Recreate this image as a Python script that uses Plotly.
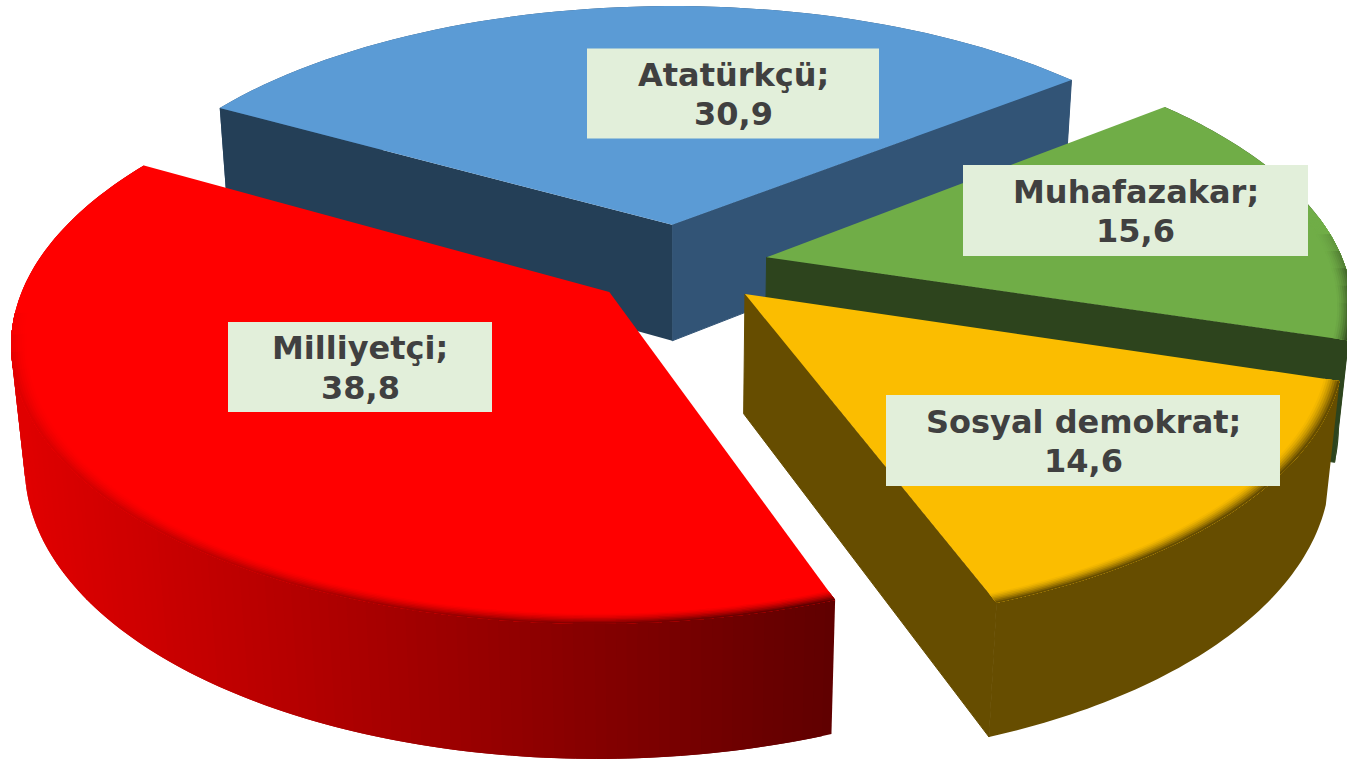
import numpy as np
import plotly.graph_objects as go

# ---- data ----
names = ["Atatürkçü", "Muhafazakar", "Sosyal demokrat", "Milliyetçi"]
values = [30.9, 15.6, 14.6, 38.8]
value_labels = ["30,9", "15,6", "14,6", "38,8"]

# ---- style ----
top_colors = ["#5b9bd5", "#70ad47", "#fbbd00", "#ff0000"]
side_colors = ["#325476", "#2d441d", "#664d00", "#7a0000"]
cut_start_colors = ["#243f57", None, None, None]
cut_end_colors = ["#325476", "#2d441d", "#664d00", None]
edge_thresholds = [(1.0, 0.2), (-0.15, 0.3), (-0.1, 0.2), (0.1, 0.2)]
label_centers = [(733, 93.5), (1135.5, 210.5), (1083, 440.5), (360, 367)]
label_sizes = [(292, 90), (345, 91), (394, 91), (264, 90)]

# ---- camera: perspective view of a tilted, exploded pie ----
CX, CY = 679.0, 265.0
S, A, K, D, M = 578.0, 267.0, 0.165, 120.5, 0.02
EXPLODE = 0.155
START_DEG = -60.2
RED_SIDE = ("#e00000", "#600000")
LINE_GAP = 39.5


def project(u, v, z=0.0):
    w = 1 + K * v + M * z
    return CX + S * u / w, CY + (-A * v + D * z) / w


def hex_rgb(c):
    return np.array([int(c[i:i + 2], 16) for i in (1, 3, 5)], float)


def mix(a, b, t):
    r = hex_rgb(a) * (1 - t) + hex_rgb(b) * t
    return "#%02x%02x%02x" % tuple(int(round(x)) for x in r)


fig = go.Figure()


def poly(xs, ys, color, stroke=False):
    xs, ys = list(xs), list(ys)
    fig.add_trace(go.Scatter(
        x=xs + [xs[0]], y=ys + [ys[0]], mode="lines" if stroke else "none", fill="toself",
        fillcolor=color, line=dict(color=color, width=1), hoverinfo="skip", showlegend=False))


total = sum(values)
bounds = START_DEG + np.concatenate([[0], np.cumsum(values)]) / total * 360

for i in range(len(values)):
    a0, a1 = np.radians(bounds[i]), np.radians(bounds[i + 1])
    mid = (a0 + a1) / 2
    ou, ov = EXPLODE * np.sin(mid), EXPLODE * np.cos(mid)
    n = 160 if i == 3 else 60
    th = np.linspace(a0, a1, n + 1)
    au, av = ou + np.sin(th), ov + np.cos(th)

    # outer wall
    tx, ty = project(au, av, 0)
    bx, by = project(au, av, 1)
    ax0, ay0 = project(ou, ov, 0)
    ax1, ay1 = project(ou, ov, 1)
    if i == 3:
        for j in range(n):
            t = np.clip((tx[j] - 20) / 815, 0, 1)
            j2 = min(j + 2, n)
            poly([tx[j], tx[j2], bx[j2], bx[j]], [ty[j], ty[j2], by[j2], by[j]],
                 mix(RED_SIDE[0], RED_SIDE[1], t))
    else:
        poly(np.concatenate([tx, bx[::-1]]), np.concatenate([ty, by[::-1]]), side_colors[i])

    # radial cut faces
    if cut_end_colors[i] is not None:
        poly([ax0, tx[-1], bx[-1], ax1], [ay0, ty[-1], by[-1], ay1], cut_end_colors[i], stroke=True)
    if cut_start_colors[i] is not None:
        poly([ax0, tx[0], bx[0], ax1], [ay0, ty[0], by[0], ay1], cut_start_colors[i])

    # top face
    px, py = project(np.concatenate([[ou], au]), np.concatenate([[ov], av]), 0)
    poly(px, py, top_colors[i])

    # soft edge between top face and wall
    lo, span = edge_thresholds[i]
    weights = np.clip((-np.cos(th) - lo) / span, 0, 1)
    radii = np.linspace(0.975, 1.0, 8)
    step = 4
    for r in range(len(radii) - 1):
        frac = ((r + 1) / (len(radii) - 1)) ** 1.5
        j = 0
        while j < n:
            j2 = min(j + step, n)
            if weights[j] == 0 and weights[j2] == 0:
                j = j2
                continue
            side = mix(RED_SIDE[0], RED_SIDE[1], float(np.clip((tx[j] - 20) / 815, 0, 1))) if i == 3 else side_colors[i]
            col = mix(top_colors[i], side, float(weights[j]) * frac)
            while j2 < n and i != 3 and weights[j2] == weights[j]:
                j2 = min(j2 + step, n)
            end = min(j2 + 1, n)
            seg = th[j:end + 1]
            ru = np.concatenate([ou + radii[r] * np.sin(seg), ou + np.sin(seg[::-1])])
            rv = np.concatenate([ov + radii[r] * np.cos(seg), ov + np.cos(seg[::-1])])
            qx, qy = project(ru, rv, 0)
            poly(qx, qy, col)
            j = j2

for name, val, (lx, ly), (lw, lh) in zip(names, value_labels, label_centers, label_sizes):
    fig.add_shape(type="rect", xref="x", yref="y", layer="above",
                  x0=lx - lw / 2, x1=lx + lw / 2, y0=ly - lh / 2, y1=ly + lh / 2,
                  fillcolor="#e2efda", line=dict(width=0))
    for text, dy in ((name + ";", -LINE_GAP / 2), (val, LINE_GAP / 2)):
        fig.add_annotation(
            x=lx, y=ly + dy, xref="x", yref="y", text=f"<b>{text}</b>", showarrow=False,
            yshift=-1, font=dict(family="DejaVu Sans", size=32, color="#404040"))

fig.update_layout(
    width=1347, height=761, margin=dict(l=0, r=0, t=0, b=0),
    paper_bgcolor="white", plot_bgcolor="white", showlegend=False,
    xaxis=dict(range=[0, 1347], visible=False, fixedrange=True),
    yaxis=dict(range=[761, 0], visible=False, fixedrange=True),
)
fig.write_html("out.html", config={"displayModeBar": False},
               post_script="document.body.style.margin='0';")
